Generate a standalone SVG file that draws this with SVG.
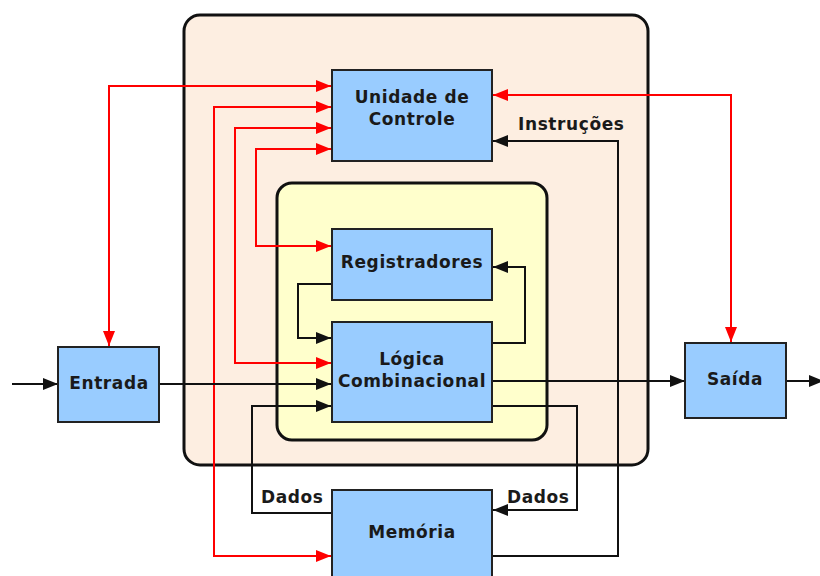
<svg xmlns="http://www.w3.org/2000/svg" width="820" height="576" viewBox="0 0 820 576">
  <style>
    .frame { fill: #fdeee1; stroke: #111; stroke-width: 3; }
    .core { fill: #ffffcc; stroke: #111; stroke-width: 3; }
    .box { fill: #99ccff; stroke: #222; stroke-width: 2; }
    .lbl { font-family: "DejaVu Sans", "Liberation Sans", sans-serif; font-weight: bold; font-size: 17px; letter-spacing: 0.6px; fill: #1a1a1a; text-anchor: middle; }
    .tag { font-family: "DejaVu Sans", "Liberation Sans", sans-serif; font-weight: bold; font-size: 17px; letter-spacing: 0.6px; fill: #1a1a1a; }
    .ctl { fill: none; stroke: #ff0000; stroke-width: 2; }
    .dat { fill: none; stroke: #111; stroke-width: 2; }
  </style>
  <defs>
    <marker id="redHead" markerUnits="userSpaceOnUse" markerWidth="16" markerHeight="12" viewBox="0 0 16 12" refX="15" refY="6" orient="auto-start-reverse">
      <path d="M0,0 L15,6 L0,12 z" fill="#ff0000"/>
    </marker>
    <marker id="blackHead" markerUnits="userSpaceOnUse" markerWidth="16" markerHeight="12" viewBox="0 0 16 12" refX="15" refY="6" orient="auto-start-reverse">
      <path d="M0,0 L15,6 L0,12 z" fill="#111"/>
    </marker>
  </defs>

  <!-- processor frame -->
  <g id="cpu">
    <rect class="frame" x="184" y="15" width="464" height="450" rx="16" ry="16"/>
  </g>
  <!-- datapath frame -->
  <g id="datapath">
    <rect class="core" x="277" y="183" width="270" height="257" rx="15" ry="15"/>
  </g>

  <!-- connectors -->
  <g id="connectors">
    <!-- control lines -->
    <path class="ctl" d="M109,346 V86 H331" marker-start="url(#redHead)" marker-end="url(#redHead)"/>
    <path class="ctl" d="M331,556 H214 V107 H331" marker-start="url(#redHead)" marker-end="url(#redHead)"/>
    <path class="ctl" d="M331,363 H235 V128 H331" marker-start="url(#redHead)" marker-end="url(#redHead)"/>
    <path class="ctl" d="M331,246 H256 V149 H331" marker-start="url(#redHead)" marker-end="url(#redHead)"/>
    <path class="ctl" d="M731,342 V95 H493" marker-start="url(#redHead)" marker-end="url(#redHead)"/>

    <!-- data lines -->
    <path class="dat" d="M12,384 H58" marker-end="url(#blackHead)"/>
    <path class="dat" d="M159,384 H331" marker-end="url(#blackHead)"/>
    <path class="dat" d="M332,284 H298 V338 H331" marker-end="url(#blackHead)"/>
    <path class="dat" d="M492,343 H525 V267 H493" marker-end="url(#blackHead)"/>
    <path class="dat" d="M492,381 H685" marker-end="url(#blackHead)"/>
    <path class="dat" d="M786,381 H824" marker-end="url(#blackHead)"/>
    <path class="dat" d="M332,513 H252 V406 H331" marker-end="url(#blackHead)"/>
    <path class="dat" d="M492,406 H577 V510 H493" marker-end="url(#blackHead)"/>
    <path class="dat" d="M492,556 H618 V141 H493" marker-end="url(#blackHead)"/>
  </g>

  <!-- edge labels -->
  <text class="tag" x="518" y="130">Instruções</text>
  <text class="tag" x="261" y="503">Dados</text>
  <text class="tag" x="507" y="503">Dados</text>

  <g id="controle">
    <rect class="box" x="332" y="70" width="160" height="91"/>
    <text class="lbl" x="412" y="103">Unidade de</text>
    <text class="lbl" x="412" y="125">Controle</text>
  </g>
  <g id="registradores">
    <rect class="box" x="332" y="229" width="160" height="71"/>
    <text class="lbl" x="412" y="268">Registradores</text>
  </g>
  <g id="logica">
    <rect class="box" x="332" y="322" width="160" height="100"/>
    <text class="lbl" x="412" y="365">Lógica</text>
    <text class="lbl" x="412" y="387">Combinacional</text>
  </g>
  <g id="entrada">
    <rect class="box" x="58" y="347" width="101" height="75"/>
    <text class="lbl" x="109" y="389">Entrada</text>
  </g>
  <g id="saida">
    <rect class="box" x="685" y="343" width="101" height="75"/>
    <text class="lbl" x="735" y="385">Saída</text>
  </g>
  <g id="memoria">
    <rect class="box" x="332" y="490" width="160" height="100"/>
    <text class="lbl" x="412" y="538">Memória</text>
  </g>
</svg>
